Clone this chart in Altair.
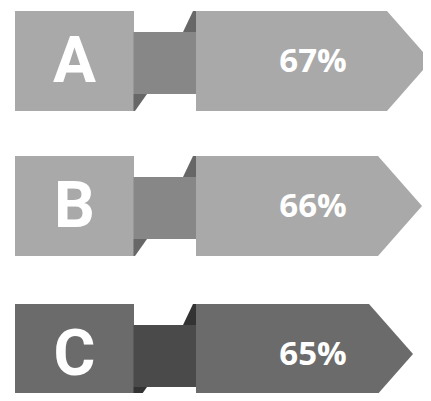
import altair as alt
import pandas as pd

categories = ["A", "B", "C"]
values = [67, 66, 65]
labels = [f"{v}%" for v in values]

# plot area = visible page area (page margin 8px); coordinates below are plot pixels
W, H = 415, 385
row_tops = [3, 148, 296]
ROW_H = 100

shapes = []
letters_rows = []
pct_rows = []
for c, v, lab, t in zip(categories, values, labels, row_tops):
    dark = v == min(values)
    base = "#6b6b6b" if dark else "#a9a9a9"
    mid = "#4a4a4a" if dark else "#878787"
    shade = "#333333" if dark else "#676767"
    tip = 405 + 9 * (v - 65)
    parts = {
        "square": ([(7, t, t + ROW_H), (126, t, t + ROW_H)], base),
        "connector": ([(125.5, t + 21, t + 83), (188.5, t + 21, t + 83)], mid),
        "toptri": ([(175, t + 21, t + 21), (185, t, t + 21), (188.5, t, t + 21)], shade),
        "bottri": ([(125.5, t + 83, t + ROW_H), (127, t + 83, t + ROW_H), (139, t + 83, t + 83)], shade),
        "arrow": ([(188, t, t + ROW_H), (tip - 44, t, t + ROW_H), (tip, t + 50, t + 50)], base),
    }
    for name, (pts, fill) in parts.items():
        for x, y, y2 in pts:
            shapes.append(dict(id=f"{c}-{name}", x=float(x), y=float(y), y2=float(y2), fill=fill))
    letters_rows.append(dict(x=66.5, y=float(t + 50), text=c))
    pct_rows.append(dict(x=305.0, y=float(t + 50), text=lab))

df_shapes = pd.DataFrame(shapes)
df_letters = pd.DataFrame(letters_rows)
df_pct = pd.DataFrame(pct_rows)

xs = alt.Scale(domain=[0, W], nice=False, zero=False)
ys = alt.Scale(domain=[0, H], nice=False, zero=False, reverse=True)

areas = alt.Chart(df_shapes).mark_area(interpolate="linear", opacity=1).encode(
    x=alt.X("x:Q", scale=xs, axis=None),
    y=alt.Y("y:Q", scale=ys, axis=None),
    y2="y2:Q",
    color=alt.Color("fill:N", scale=None, legend=None),
    detail="id:N",
)

letters = alt.Chart(df_letters).mark_text(
    font="Roboto", fontWeight="bold", fontSize=64, color="white",
    align="center", baseline="middle", dy=2,
).encode(
    x=alt.X("x:Q", scale=xs, axis=None),
    y=alt.Y("y:Q", scale=ys, axis=None),
    text="text:N",
)

pcts = alt.Chart(df_pct).mark_text(
    font="Open Sans", fontWeight="bold", fontSize=33, color="white",
    align="center", baseline="middle", dy=1,
).encode(
    x=alt.X("x:Q", scale=xs, axis=None),
    y=alt.Y("y:Q", scale=ys, axis=None),
    text="text:N",
)

chart = alt.layer(areas, letters, pcts).properties(
    width=W, height=H, autosize=alt.AutoSizeParams(type="none"), padding=0,
).configure_view(strokeWidth=0)

chart.save("out.html", embed_options={"renderer": "svg", "actions": False})
